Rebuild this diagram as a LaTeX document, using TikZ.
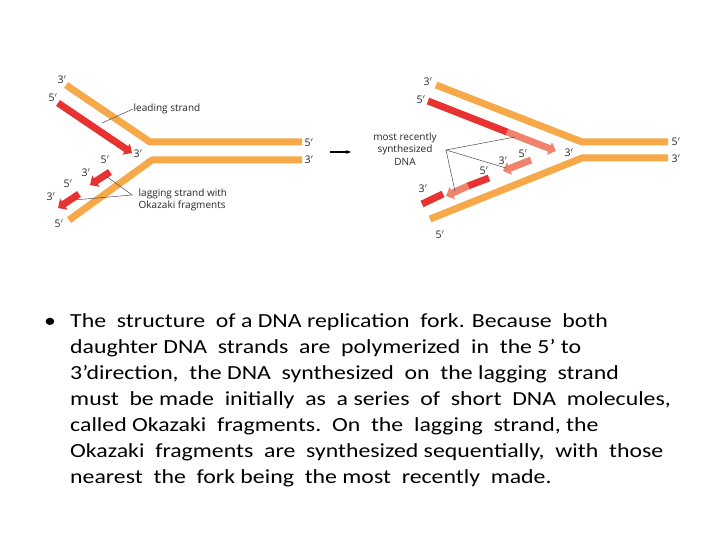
\documentclass[tikz,border=0pt]{standalone}
\usepackage{fontspec}
\setmainfont{Carlito}
\newfontfamily\lab{Open Sans}
\usetikzlibrary{arrows.meta}
\definecolor{orng}{RGB}{247,168,72}
\definecolor{dred}{RGB}{232,50,50}
\definecolor{lred}{RGB}{240,130,110}
\tikzset{x=1pt,y=-1pt,
 tmpl/.style={draw=orng,line width=7pt},
 newr/.style={draw=dred,line width=7pt},
 arr/.style={line width=7pt,-{Triangle[length=7pt,width=13pt]}},
 lb/.style={font=\lab\fontsize{10}{12.5}\selectfont,inner sep=0.5pt,text=black!85},
 pt/.style={font=\lab\fontsize{10.5}{11}\selectfont,inner sep=0.5pt,text=black!85},
 ln/.style={draw=black!70,line width=0.5pt},
 txt/.style={font=\fontsize{20}{22}\selectfont,anchor=base west,inner sep=0pt,xscale=1.19,transform shape}}
\begin{document}
\begin{tikzpicture}
\useasboundingbox[fill=white] (0,0) rectangle (720,540);
% left fork
\coordinate (a1) at (66,85); \coordinate (a2) at (150,142); \coordinate (a3) at (302,142);
\coordinate (b1) at (69,220); \coordinate (b2) at (152,160); \coordinate (b3) at (302,160);
\draw[tmpl,line join=round] (a1)--(a2)--(a3);
\draw[tmpl,line join=round] (b1)--(b2)--(b3);
\coordinate (l1) at (58,103); \coordinate (l2) at (132,153);
\draw[arr,dred] (l1)--(l2);
\coordinate (f1a) at (110,172); \coordinate (f1b) at (90,185);
\draw[arr,dred] (f1a)--(f1b);
\coordinate (f2a) at (79,194); \coordinate (f2b) at (58,208);
\draw[arr,dred] (f2a)--(f2b);
\node[pt] (t1) at (62,80) {3$'$};
\node[pt] (t2) at (53,98) {5$'$};
\node[pt] (t3) at (138,154) {3$'$};
\node[pt] (t4) at (309,143) {5$'$};
\node[pt] (t5) at (309,160) {3$'$};
\node[pt] (t6) at (105,160) {5$'$};
\node[pt] (t7) at (86,173) {3$'$};
\node[pt] (t8) at (68,184) {5$'$};
\node[pt] (t9) at (51,197) {3$'$};
\node[pt] (t10) at (59,224) {5$'$};
\node[lb,anchor=west] (ls) at (133,109) {leading strand};
\coordinate (lsp) at (102,123);
\draw[ln] (ls.west)--(lsp);
\node[lb,anchor=west,align=left] (lg) at (138,200) {lagging strand with\\Okazaki fragments};
\coordinate (lgp) at (132,195);
\coordinate (lq1) at (106,176); \coordinate (lq2) at (74,200);
\draw[ln] (lq1)--(lgp)--(lq2);
\coordinate (m1) at (330,152); \coordinate (m2) at (351,152);
\draw[-{Stealth[length=5pt]},line width=1.2pt] (m1)--(m2);
% right fork
\coordinate (c1) at (436,85); \coordinate (c2) at (582,142); \coordinate (c3) at (668,142);
\coordinate (d1) at (430,219); \coordinate (d2) at (582,158); \coordinate (d3) at (668,158);
\draw[tmpl,line join=round] (c1)--(c2)--(c3);
\draw[tmpl,line join=round] (d1)--(d2)--(d3);
\coordinate (r1) at (428,101); \coordinate (r2) at (507,132); \coordinate (r3) at (556,151);
\draw[newr] (r1)--(r2);
\draw[arr,lred] (r2)--(r3);
\coordinate (g1) at (531,160); \coordinate (g2) at (503,171);
\draw[arr,lred] (g1)--(g2);
\coordinate (h1) at (489,178); \coordinate (h2) at (468,186); \coordinate (h3) at (446,196);
\draw[newr] (h1)--(h2);
\draw[arr,lred] (h2)--(h3);
\coordinate (k1) at (443,194); \coordinate (k2) at (422,204);
\draw[newr] (k1)--(k2);
\node[pt] (u1) at (428,82) {3$'$};
\node[pt] (u2) at (421,100) {5$'$};
\node[pt] (u3) at (569,153) {3$'$};
\node[pt] (u4) at (676,142) {5$'$};
\node[pt] (u5) at (676,159) {3$'$};
\node[pt] (u6) at (523,154) {5$'$};
\node[pt] (u7) at (503,161) {3$'$};
\node[pt] (u8) at (484,171) {5$'$};
\node[pt] (u9) at (423,189) {3$'$};
\node[pt] (u10) at (440,235) {5$'$};
\node[lb,align=center] (mr) at (405,149) {most recently\\synthesized\\DNA};
\coordinate (mp) at (446,150);
\coordinate (mq1) at (515,137); \coordinate (mq2) at (506,168); \coordinate (mq3) at (455,191);
\draw[ln] (mq1)--(mp)--(mq2); \draw[ln] (mp)--(mq3);
% caption
\node[txt] (bul) at (44,327) {\textbullet};
\node[txt] (c1t) at (70,327) {The\ \ structure\ \ of a DNA replication\ \ fork. Because\ \ both};
\node[txt] (c2t) at (70,353) {daughter DNA\ \ strands\ \ are\ \ polymerized\ \ in\ \ the 5’ to};
\node[txt] (c3t) at (70,379) {3’direction,\ \ the DNA\ \ synthesized\ \ on\ \ the lagging\ \ strand};
\node[txt] (c4t) at (70,405) {must\ \ be made\ \ initially\ \ as\ \ a series\ \ of\ \ short\ \ DNA\ \ molecules,};
\node[txt] (c5t) at (70,431) {called Okazaki\ \ fragments.\ \ On\ \ the\ \ lagging\ \ strand, the};
\node[txt] (c6t) at (70,457) {Okazaki\ \ fragments\ \ are\ \ synthesized sequentially,\ \ with\ \ those};
\node[txt] (c7t) at (70,483) {nearest\ \ the\ \ fork being\ \ the most\ \ recently\ \ made.};
\end{tikzpicture}
\end{document}
